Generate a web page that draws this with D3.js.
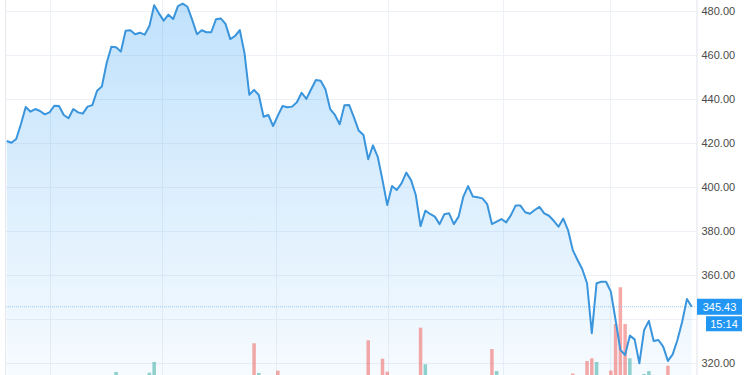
<!DOCTYPE html>
<html>
<head>
<meta charset="utf-8">
<script src="https://cdn.jsdelivr.net/npm/d3@7"></script>
<style>
  body { margin: 0; background: #fff; }
  svg { display: block; font-family: "Liberation Sans", Arial, sans-serif; }
</style>
</head>
<body>
<div id="chart"></div>
<script>
// closing prices, one per session
var prices = [
  420.8, 420.0, 421.7, 428.5, 436.2, 434.1, 435.3, 434.4, 432.9, 433.8,
  436.8, 436.7, 432.6, 431.1, 435.3, 433.8, 433.2, 436.4, 437.1, 443.6,
  445.5, 456.1, 463.6, 463.4, 461.4, 470.9, 471.1, 469.3, 470.0, 469.1,
  473.0, 482.5, 478.8, 475.5, 478.2, 476.2, 482.1, 483.2, 481.8, 475.8,
  469.3, 471.1, 470.2, 470.2, 476.1, 476.5, 474.0, 467.1, 468.5, 471.2,
  460.6, 441.8, 444.0, 441.7, 431.8, 432.6, 427.6, 432.3, 436.7, 436.1,
  436.4, 438.4, 442.7, 439.9, 444.3, 448.5, 448.2, 444.3, 435.3, 432.6,
  428.4, 437.0, 437.1, 431.5, 425.5, 423.5, 412.5, 418.8, 413.6, 403.0,
  391.7, 400.3, 398.5, 401.5, 406.4, 403.0, 396.2, 382.1, 389.1, 387.6,
  386.4, 383.0, 387.5, 387.9, 383.0, 386.4, 395.5, 400.3, 395.5, 395.2,
  394.7, 392.1, 383.0, 384.1, 385.3, 383.8, 387.1, 391.5, 391.4, 388.4,
  387.7, 389.4, 390.8, 387.9, 386.8, 384.5, 381.8, 385.5, 380.3, 371.2,
  366.7, 362.5, 356.1, 333.4, 356.1, 356.8, 356.8, 352.3, 339.4, 325.8,
  323.5, 332.3, 330.6, 319.7, 334.9, 339.0, 329.9, 330.3, 327.3, 320.8,
  323.8, 330.3, 338.6, 349.0, 345.43
];

// volume bars: session index, volume, direction
var volIndex = [23, 30, 31, 52, 53, 57, 76, 79, 80, 87, 88, 102, 103, 119, 122, 123, 124, 127, 128, 129, 130, 131, 134, 135, 139];
var volValue = [3.4, 2.6, 14.8, 36, 2.3, 4.9, 39.4, 18.5, 3.8, 53.8, 12.2, 29.5, 4.5, 1.7, 15.9, 19, 14.8, 5.1, 58, 99.7, 58, 19, 1.1, 4.5, 10.6];
var volUp = [1, 1, 1, 0, 1, 0, 0, 0, 0, 0, 1, 0, 1, 0, 0, 0, 1, 0, 0, 0, 0, 1, 1, 1, 0];

var priceTicks = [320, 340, 360, 380, 400, 420, 440, 460, 480];
var monthTicks = [9.1, 32.6, 56.6, 80.2, 104.3, 126.8];
var lastPrice = 345.43;
var timeLabel = "15:14";

var svgWidth = 750;
var svgHeight = 375;
var plotLeft = 6;
var plotRight = 696.5;

var svg = d3.select("#chart")
    .append("svg")
    .attr("width", svgWidth)
    .attr("height", svgHeight);

var x = d3.scaleLinear()
    .domain([0, prices.length - 1])
    .range([6.7, 691.7]);

var y = d3.scaleLinear()
    .domain([320, 480])
    .range([362.7, 10.7]);

var yVol = d3.scaleLinear()
    .domain([0, 100])
    .range([375, 287]);

// gradient for the area
var defs = svg.append("defs");
var grad = defs.append("linearGradient")
    .attr("id", "areaGrad")
    .attr("x1", 0).attr("y1", 0)
    .attr("x2", 0).attr("y2", 1);
grad.append("stop").attr("offset", "0%").attr("stop-color", "#2196f3").attr("stop-opacity", 0.28);
grad.append("stop").attr("offset", "100%").attr("stop-color", "#2196f3").attr("stop-opacity", 0.04);

// grid lines
svg.append("g")
    .selectAll("line")
    .data(priceTicks)
    .enter()
    .append("line")
    .attr("x1", plotLeft)
    .attr("x2", plotRight)
    .attr("y1", d => Math.round(y(d)) + 0.5)
    .attr("y2", d => Math.round(y(d)) + 0.5)
    .attr("stroke", "#eef1f7");

svg.append("g")
    .selectAll("line")
    .data(monthTicks)
    .enter()
    .append("line")
    .attr("x1", d => Math.round(x(d)) + 0.5)
    .attr("x2", d => Math.round(x(d)) + 0.5)
    .attr("y1", 0)
    .attr("y2", svgHeight)
    .attr("stroke", "#eef1f7");

// area + line
var area = d3.area()
    .x((d, i) => x(i))
    .y0(svgHeight)
    .y1(d => y(d));

var line = d3.line()
    .x((d, i) => x(i))
    .y(d => y(d));

svg.append("path")
    .datum(prices)
    .attr("d", area)
    .attr("fill", "url(#areaGrad)");

// volume bars
svg.append("g")
    .selectAll("rect")
    .data(volIndex)
    .enter()
    .append("rect")
    .attr("x", (d, i) => x(d) - 1.75)
    .attr("width", 3.5)
    .attr("y", (d, i) => yVol(volValue[i]))
    .attr("height", (d, i) => svgHeight - yVol(volValue[i]))
    .attr("fill", (d, i) => volUp[i] ? "rgba(38,166,154,0.5)" : "rgba(239,83,80,0.5)");

// last price dotted line
svg.append("line")
    .attr("x1", plotLeft)
    .attr("x2", plotRight)
    .attr("y1", y(lastPrice))
    .attr("y2", y(lastPrice))
    .attr("stroke", "#9cc8ee")
    .attr("stroke-dasharray", "1,1");

svg.append("path")
    .datum(prices)
    .attr("d", line)
    .attr("fill", "none")
    .attr("stroke", "#3a95dc")
    .attr("stroke-width", 2)
    .attr("stroke-linejoin", "round");

// borders
svg.append("line")
    .attr("x1", plotLeft - 0.5).attr("x2", plotLeft - 0.5)
    .attr("y1", 0).attr("y2", svgHeight)
    .attr("stroke", "#e6e8ee");

svg.append("rect")
    .attr("x", plotRight)
    .attr("y", 0)
    .attr("width", svgWidth - plotRight)
    .attr("height", svgHeight)
    .attr("fill", "#fff");

svg.append("line")
    .attr("x1", plotRight + 0.5).attr("x2", plotRight + 0.5)
    .attr("y1", 0).attr("y2", svgHeight)
    .attr("stroke", "#e0e3eb");

// right price axis (labels hidden behind the last-price boxes are skipped)
var lastY = y(lastPrice);
var rightAxis = d3.axisRight(y)
    .tickValues(priceTicks.filter(d => Math.abs(y(d) - lastY) > 16))
    .tickFormat(d3.format(".2f"))
    .tickSize(0)
    .tickPadding(5);

var axisG = svg.append("g")
    .attr("transform", `translate(${plotRight}, 0)`)
    .call(rightAxis);
axisG.select(".domain").remove();
axisG.selectAll("text")
    .attr("fill", "#4a4a4a")
    .style("font-size", "11px")
    .style("font-family", "Liberation Sans, Arial, sans-serif");

// last price + time boxes
svg.append("rect")
    .attr("x", 697)
    .attr("y", lastY - 8)
    .attr("width", 45)
    .attr("height", 16)
    .attr("fill", "#2196f3");
svg.append("text")
    .attr("x", 719.5)
    .attr("y", lastY + 4)
    .attr("text-anchor", "middle")
    .attr("fill", "#fff")
    .style("font-size", "11px")
    .text(d3.format(".2f")(lastPrice));

svg.append("rect")
    .attr("x", 706)
    .attr("y", lastY + 9.5)
    .attr("width", 36)
    .attr("height", 15)
    .attr("fill", "#2196f3");
svg.append("text")
    .attr("x", 724)
    .attr("y", lastY + 21)
    .attr("text-anchor", "middle")
    .attr("fill", "#fff")
    .style("font-size", "11px")
    .text(timeLabel);
</script>
</body>
</html>
